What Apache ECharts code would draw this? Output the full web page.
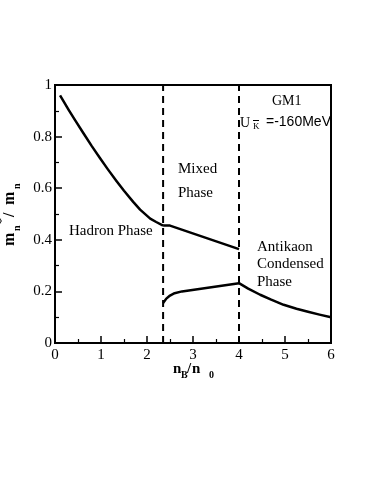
<!DOCTYPE html>
<html>
<head>
<meta charset="utf-8">
<script src="https://cdn.jsdelivr.net/npm/echarts@6/dist/echarts.min.js"></script>
<style>
  html, body { margin: 0; padding: 0; background: #fff; }
  #chart { width: 379px; height: 491px; }
</style>
</head>
<body>
<div id="chart"></div>
<script>
const hadronX = [0.11, 0.3, 0.45, 0.615, 0.8, 0.98, 1.15, 1.34, 1.5, 1.7, 1.85, 2.07, 2.2, 2.35]
const hadronY = [0.96, 0.903, 0.86, 0.814, 0.763, 0.716, 0.673, 0.627, 0.59, 0.547, 0.517, 0.482, 0.469, 0.455]
const mixedUpX = [2.35, 2.5, 4.0]
const mixedUpY = [0.455, 0.455, 0.364]
const mixedLowX = [2.35, 2.42, 2.5, 2.6, 2.76, 4.0]
const mixedLowY = [0.155, 0.172, 0.184, 0.193, 0.2, 0.232]
const kaonX = [4.0, 4.2, 4.46, 4.7, 4.97, 5.25, 5.5, 5.75, 6.0]
const kaonY = [0.232, 0.211, 0.187, 0.168, 0.148, 0.133, 0.121, 0.11, 0.1]
const phaseBounds = [2.35, 4.0]
const xTicks = [0, 1, 2, 3, 4, 5, 6]
const yTicks = [0, 0.2, 0.4, 0.6, 0.8, 1]

const serif = '"Liberation Serif", "Times New Roman", serif'
const sans = '"Liberation Sans", Arial, sans-serif'

const pairs = (xs, ys) => xs.map((x, i) => [x, ys[i]])

function curve(name, xs, ys) {
  return {
    name,
    type: 'line',
    data: pairs(xs, ys),
    showSymbol: false,
    smooth: false,
    lineStyle: { color: '#000', width: 2.5, join: 'round' },
    silent: true,
  }
}

function boundary(x) {
  return {
    type: 'line',
    data: [[x, 0], [x, 1]],
    showSymbol: false,
    lineStyle: { color: '#000', width: 2, type: [7, 5] },
    silent: true,
  }
}

function txt(text, x, y, size, opts = {}) {
  return {
    type: 'text',
    x, y,
    rotation: opts.rotation || 0,
    style: {
      text,
      font: `${opts.weight || 'normal'} ${size}px ${opts.family || serif}`,
      fill: '#000',
      align: 'left',
      verticalAlign: 'middle',
    },
  }
}

const chart = echarts.init(document.getElementById('chart'), null, { renderer: 'canvas' })

const up = Math.PI / 2
chart.setOption({
  animation: false,
  backgroundColor: '#fff',
  grid: {
    left: 55, top: 85, width: 276, height: 258,
    show: true, borderColor: '#000', borderWidth: 2, backgroundColor: 'transparent',
  },
  xAxis: {
    type: 'value',
    min: xTicks[0], max: xTicks[xTicks.length - 1], interval: 1,
    axisLine: { lineStyle: { color: '#000', width: 2 } },
    axisTick: { inside: true, length: 7, lineStyle: { color: '#000', width: 1.5 } },
    minorTick: { show: true, splitNumber: 2, length: 4, lineStyle: { color: '#000', width: 1.2 } },
    splitLine: { show: false },
    axisLabel: { color: '#000', fontFamily: serif, fontSize: 15, margin: 5 },
  },
  yAxis: {
    type: 'value',
    min: yTicks[0], max: yTicks[yTicks.length - 1], interval: 0.2,
    axisLine: { lineStyle: { color: '#000', width: 2 } },
    axisTick: { inside: true, length: 7, lineStyle: { color: '#000', width: 1.5 } },
    minorTick: { show: true, splitNumber: 2, length: 4, lineStyle: { color: '#000', width: 1.2 } },
    splitLine: { show: false },
    axisLabel: {
      color: '#000', fontFamily: serif, fontSize: 15, margin: 3,
      formatter: v => String(Math.round(v * 10) / 10),
    },
  },
  series: [
    curve('hadron', hadronX, hadronY),
    curve('mixed upper', mixedUpX, mixedUpY),
    curve('mixed lower', mixedLowX, mixedLowY),
    curve('kaon', kaonX, kaonY),
    ...phaseBounds.map(boundary),
  ],
  graphic: [
    // y axis title, reads bottom to top
    txt('m', 10, 246, 16, { weight: 'bold', rotation: up }),
    txt('n', 17, 231, 10, { weight: 'bold', rotation: up }),
    txt('*', 2, 224, 12, { weight: 'bold', rotation: up }),
    txt('/', 10, 217, 16, { weight: 'bold', rotation: up }),
    txt('m', 10, 205, 16, { weight: 'bold', rotation: up }),
    txt('n', 17, 189, 10, { weight: 'bold', rotation: up }),
    // x axis title
    txt('n', 173, 369, 15, { weight: 'bold' }),
    txt('B', 181, 375, 10, { weight: 'bold' }),
    txt('/', 187, 369, 15, { weight: 'bold' }),
    txt('n', 192, 369, 15, { weight: 'bold' }),
    txt('0', 209, 375, 10, { weight: 'bold' }),
    // annotations
    txt('GM1', 272, 101, 14),
    txt('U', 240, 123, 14),
    txt('K', 253, 127, 9),
    { type: 'line', shape: { x1: 253, y1: 120.5, x2: 259, y2: 120.5 }, style: { stroke: '#000', lineWidth: 1 } },
    txt('=-160MeV', 266, 122, 14, { family: sans }),
    txt('Mixed', 178, 169, 15),
    txt('Phase', 178, 193, 15),
    txt('Hadron Phase', 69, 231, 15),
    txt('Antikaon', 257, 247, 15),
    txt('Condensed', 257, 264, 15),
    txt('Phase', 257, 282, 15),
  ],
})
</script>
</body>
</html>
